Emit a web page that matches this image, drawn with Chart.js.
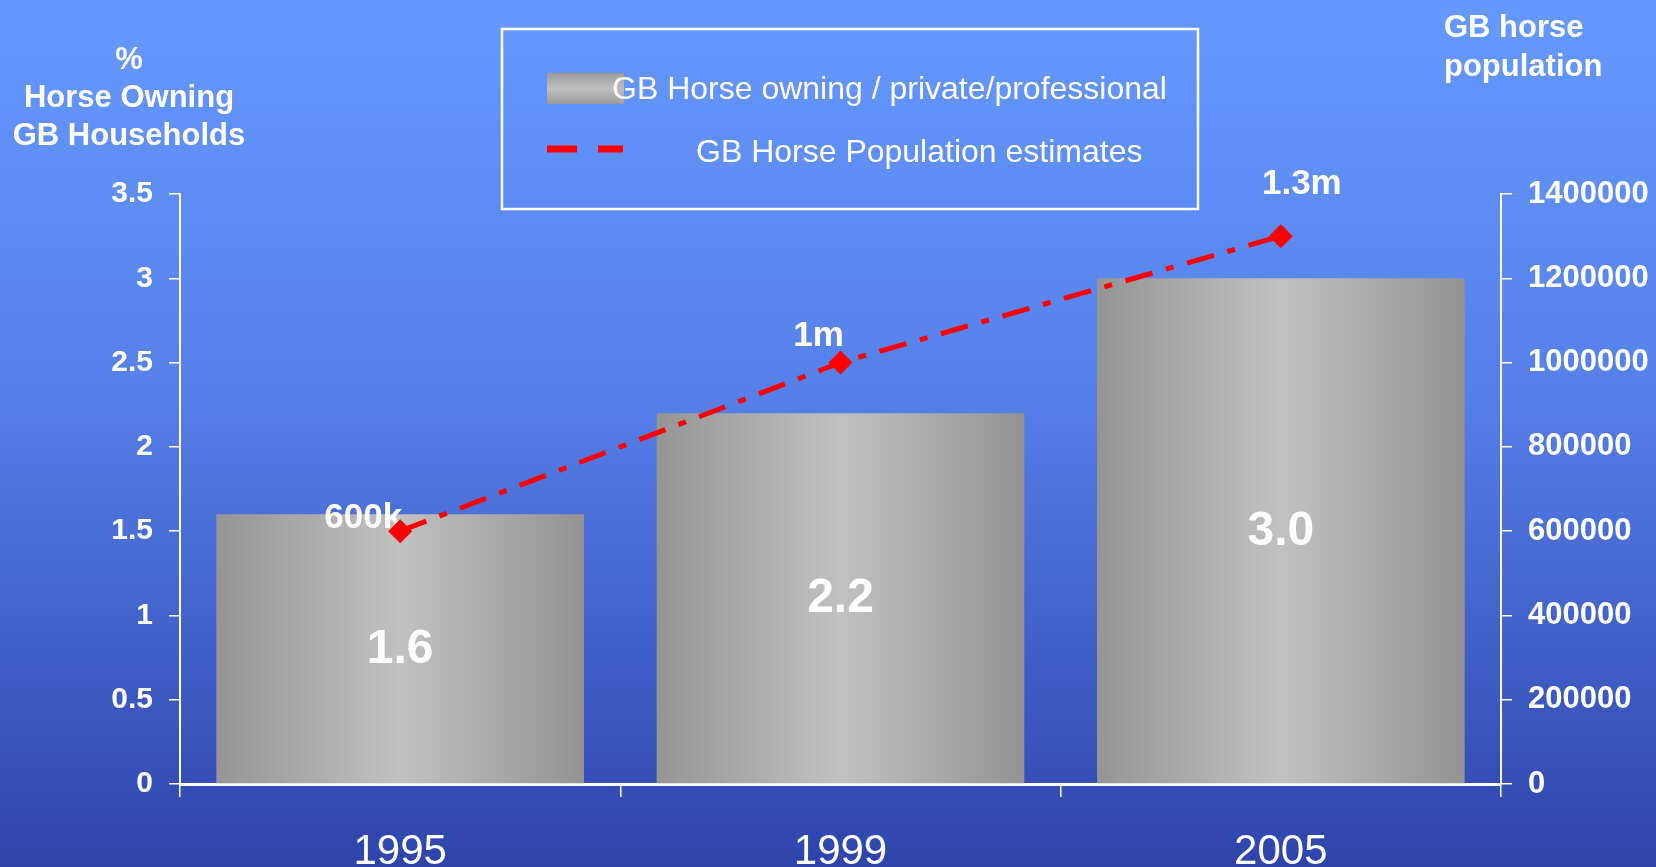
<!DOCTYPE html>
<html>
<head>
<meta charset="utf-8">
<script src="https://cdn.jsdelivr.net/npm/chart.js@4.4.0/dist/chart.umd.min.js"></script>
<style>
  html, body { margin: 0; padding: 0; background: #4a6fd8; }
  #wrap { width: 1656px; height: 867px; position: relative; }
</style>
</head>
<body>
<div id="wrap"><canvas id="horseChart"></canvas></div>
<script>
const years = ["1995", "1999", "2005"];
const ownerPct = [1.6, 2.2, 3.0];
const ownerLabels = ["1.6", "2.2", "3.0"];
const population = [600000, 1000000, 1300000];
const popLabels = ["600k", "1m", "1.3m"];

const FONT = "'Liberation Sans', Arial, sans-serif";
const BAR_PCT = 0.835;

// horizontal grey shading across each bar
function barFill(ctx) {
  const chart = ctx.chart;
  const x = chart.scales.x;
  if (!x || !x.width || ctx.dataIndex == null) return "#aaaaaa";
  const cx = x.getPixelForValue(ctx.dataIndex);
  const half = (x.width / years.length) * BAR_PCT / 2;
  const g = chart.ctx.createLinearGradient(cx - half, 0, cx + half, 0);
  g.addColorStop(0, "#959595");
  g.addColorStop(0.5, "#c1c1c1");
  g.addColorStop(1, "#939393");
  return g;
}

const background = {
  id: "background",
  beforeDraw(chart) {
    const c = chart.ctx;
    const g = c.createLinearGradient(0, 0, 0, chart.height);
    g.addColorStop(0, "#6699ff");
    g.addColorStop(0.45, "#5680e8");
    g.addColorStop(1, "#2e44ab");
    c.save();
    c.fillStyle = g;
    c.fillRect(0, 0, chart.width, chart.height);
    c.restore();
  },
};

// value labels: drawn after the bars, before the line so the markers sit on top
const valueLabels = {
  id: "valueLabels",
  afterDatasetDraw(chart, args) {
    if (args.index !== 0) return;
    const c = chart.ctx;
    c.save();
    c.fillStyle = "#ffffff";
    c.textAlign = "center";
    c.textBaseline = "middle";
    c.font = "bold 48px " + FONT;
    chart.getDatasetMeta(0).data.forEach((bar, i) => {
      c.fillText(ownerLabels[i], bar.x, (bar.y + bar.base) / 2 + 1);
    });
    const offs = [[-37, -3], [-22, -17], [21, -42]];
    c.textBaseline = "alphabetic";
    c.font = "bold 35px " + FONT;
    chart.getDatasetMeta(1).data.forEach((pt, i) => {
      c.fillText(popLabels[i], pt.x + offs[i][0], pt.y + offs[i][1]);
    });
    c.restore();
  },
};

// axis titles and the boxed legend
const annotations = {
  id: "annotations",
  afterDraw(chart) {
    const c = chart.ctx;
    c.save();
    c.fillStyle = "#ffffff";
    c.font = "bold 31px " + FONT;
    c.textAlign = "center";
    c.fillText("%", 129, 69);
    c.fillText("Horse Owning", 129, 107);
    c.fillText("GB Households", 129, 145);
    c.textAlign = "left";
    c.fillText("GB horse", 1444, 37);
    c.fillText("population", 1444, 76);

    c.strokeStyle = "#ffffff";
    c.lineWidth = 2.5;
    c.strokeRect(502, 29, 696, 180);

    const sw = c.createLinearGradient(0, 73, 0, 104);
    sw.addColorStop(0, "#9a9a9a");
    sw.addColorStop(0.5, "#c0c0c0");
    sw.addColorStop(1, "#9a9a9a");
    c.fillStyle = sw;
    c.fillRect(547, 73, 77, 31);

    c.strokeStyle = "#ff0000";
    c.lineWidth = 7;
    c.beginPath();
    c.moveTo(547, 149); c.lineTo(577, 149);
    c.moveTo(598, 149); c.lineTo(623, 149);
    c.stroke();

    c.fillStyle = "#ffffff";
    c.font = "32px " + FONT;
    c.fillText("GB Horse owning / private/professional", 612, 99);
    c.fillText("GB Horse Population estimates", 696, 162);
    c.restore();
  },
};

new Chart(document.getElementById("horseChart"), {
  data: {
    labels: years,
    datasets: [
      {
        type: "bar",
        label: "GB Horse owning / private/professional",
        data: ownerPct,
        yAxisID: "y",
        backgroundColor: barFill,
        borderWidth: 0,
        barPercentage: BAR_PCT,
        categoryPercentage: 1,
        order: 2,
      },
      {
        type: "line",
        label: "GB Horse Population estimates",
        data: population,
        yAxisID: "y1",
        borderColor: "#ff0000",
        borderWidth: 5,
        borderDash: [28, 14, 8, 14],
        tension: 0,
        pointStyle: "rectRot",
        pointRadius: 12,
        pointBackgroundColor: "#ff0000",
        pointBorderWidth: 0,
        order: 1,
      },
    ],
  },
  options: {
    responsive: true,
    maintainAspectRatio: false,
    animation: false,
    layout: { padding: { top: 194, left: 0, right: 0, bottom: 0 } },
    plugins: {
      legend: { display: false },
      tooltip: { enabled: false },
    },
    scales: {
      x: {
        offset: true,
        grid: {
          offset: true,
          drawOnChartArea: false,
          tickLength: 13,
          color: "#ffffff",
          lineWidth: 1.5,
        },
        border: { color: "#ffffff", width: 3 },
        ticks: { color: "#ffffff", font: { family: FONT, size: 42 }, padding: 30 },
        afterFit: (s) => { s.height = 83; },
      },
      y: {
        position: "left",
        min: 0,
        max: 3.5,
        ticks: {
          stepSize: 0.5,
          color: "#ffffff",
          font: { family: FONT, size: 30, weight: "bold" },
          padding: 16,
          callback: (v) => String(v),
        },
        grid: { drawOnChartArea: false, tickLength: 11, color: "#ffffff", lineWidth: 1.5 },
        border: { color: "#ffffff", width: 2 },
        afterFit: (s) => { s.width = 180; },
      },
      y1: {
        position: "right",
        min: 0,
        max: 1400000,
        ticks: {
          stepSize: 200000,
          color: "#ffffff",
          font: { family: FONT, size: 31, weight: "bold" },
          padding: 16,
          callback: (v) => String(v),
        },
        grid: { drawOnChartArea: false, tickLength: 11, color: "#ffffff", lineWidth: 1.5 },
        border: { color: "#ffffff", width: 2 },
        afterFit: (s) => { s.width = 155; },
      },
    },
  },
  plugins: [background, valueLabels, annotations],
});
</script>
</body>
</html>
